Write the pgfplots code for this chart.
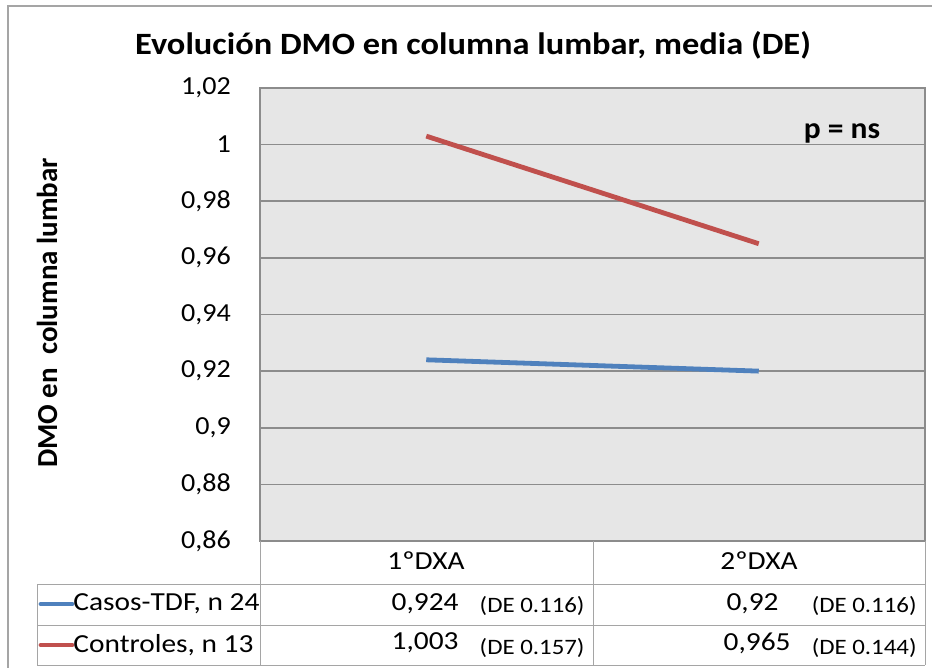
\documentclass[border=0pt]{standalone}
\usepackage{pgfplots}
\pgfplotsset{compat=1.18}
\usepackage{fontspec}
\setmainfont{Carlito}
\definecolor{casos}{RGB}{79,129,189}
\definecolor{controles}{RGB}{192,80,77}
\definecolor{plotbg}{RGB}{230,230,230}
\definecolor{gridc}{RGB}{140,140,140}
\definecolor{framec}{RGB}{165,165,165}

\begin{document}
\begin{tikzpicture}
  \begin{axis}[
    at={(130pt,-270.5pt)}, anchor=south west,
    scale only axis, width=332.5pt, height=226.5pt,
    xmin=0, xmax=2, ymin=0.86, ymax=1.02,
    xtick=\empty,
    ytick={0.86,0.88,...,1.02},
    ymajorgrids, grid style={gridc, line width=0.75pt},
    axis line style={gridc, line width=0.75pt},
    axis background/.style={fill=plotbg},
    major tick length=0pt,
    yticklabel style={font=\fontsize{13}{15}\selectfont, xscale=1.08, xshift=-10pt},
    /pgf/number format/.cd, use comma, fixed, precision=2, assume math mode=true,
  ]
    % Casos-TDF, n 24
    \addplot[casos, line width=2.4pt] coordinates {(0.5,0.924) (1.5,0.920)};
    % Controles, n 13
    \addplot[controles, line width=2.4pt] coordinates {(0.5,1.003) (1.5,0.965)};
  \end{axis}
  \begin{scope}[x=0.5pt, y=-0.5pt,
      val/.style={font=\fontsize{13}{15}\selectfont, xscale=1.13, inner sep=0pt},
      de/.style={font=\fontsize{11}{13}\selectfont, xscale=1.13, inner sep=0pt, anchor=east}]
    % outer chart frame
    \draw[framec, line width=0.75pt] (8,668) -- (8,6) -- (932,6);
    % title and labels
    \node[font=\fontsize{15.5}{18}\selectfont\bfseries, xscale=1.11] at (473,45)
      {Evolución DMO en columna lumbar, media (DE)};
    \node[font=\fontsize{14.5}{17}\selectfont\bfseries, rotate=90] at (47,313)
      {DMO en\ \ columna lumbar};
    \node[font=\fontsize{15}{18}\selectfont\bfseries, xscale=1.05] at (842,133) {p = ns};
    % data table
    \draw[framec, line width=0.5pt]
      (260,541) -- (260,665) (593,541) -- (593,665) (925,541) -- (925,665)
      (37,584) -- (925,584) (37,625) -- (925,625) (37,665) -- (925,665)
      (37,584) -- (37,665);
    \node[val] at (426,561) {1ºDXA};
    \node[val] at (759,561) {2ºDXA};
    \draw[casos, line width=2.4pt, line cap=round] (41,604) -- (72,604);
    \draw[controles, line width=2.4pt, line cap=round] (41,645) -- (72,645);
    \node[val, anchor=west] at (73,604) {Casos-TDF, n 24};
    \node[val, anchor=west] at (73,645) {Controles, n 13};
    \node[val, anchor=east] at (459,604) {0,924};
    \node[de] at (585,606) {(DE 0.116)};
    \node[val, anchor=east] at (779,604) {0,92};
    \node[de] at (917,606) {(DE 0.116)};
    \node[val, anchor=east] at (459,643) {1,003};
    \node[de] at (585,648) {(DE 0.157)};
    \node[val, anchor=east] at (791,643) {0,965};
    \node[de] at (917,648) {(DE 0.144)};
    \pgfresetboundingbox
    \path[use as bounding box] (0,0) rectangle (932,668);
  \end{scope}
\end{tikzpicture}
\end{document}
